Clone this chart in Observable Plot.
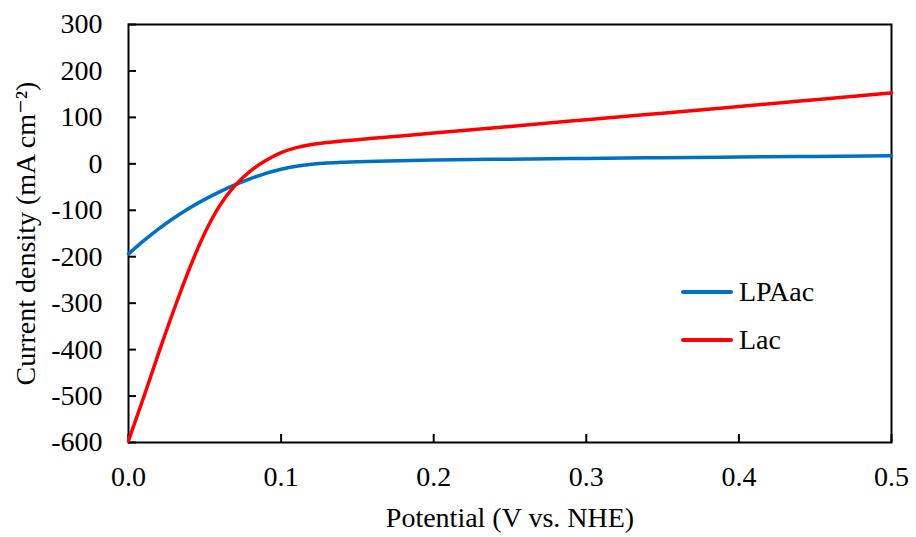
<!DOCTYPE html>
<html>
<head>
<meta charset="utf-8">
<script src="https://cdn.jsdelivr.net/npm/d3@7"></script>
<script src="https://cdn.jsdelivr.net/npm/@observablehq/plot@0.6"></script>
<style>
  html, body { margin: 0; padding: 0; background: #fff; }
  #wrap { position: relative; width: 916px; height: 537px; font-family: "Liberation Serif", "DejaVu Serif", serif; }
  #legend { position: absolute; left: 681px; top: 268px; font-size: 28px; color: #000; font-family: "Liberation Serif", "DejaVu Serif", serif; }
  .li { display: flex; align-items: center; height: 48px; }
  .sw { width: 52px; height: 4px; margin-right: 6px; border-radius: 2px; }
</style>
</head>
<body>
<div id="wrap"></div>
<script>
// Potential (V vs. NHE)
const lpaPotential = [0, 0.01, 0.02, 0.03, 0.04, 0.05, 0.06, 0.07, 0.08, 0.09, 0.10, 0.11, 0.12, 0.13, 0.14, 0.15, 0.17, 0.20, 0.25, 0.30, 0.35, 0.40, 0.45, 0.50];
// Current density (mA cm-2), LPAac
const lpaCurrent = [-194, -165.5, -139.5, -116, -95, -76.5, -60, -45, -32, -20.5, -11.5, -5, -1, 1.6, 3.3, 4.5, 6.3, 8.1, 10.1, 11.7, 13.2, 14.7, 16, 17.3];

const lacPotential = [0, 0.01, 0.02, 0.03, 0.04, 0.05, 0.06, 0.07, 0.08, 0.09, 0.10, 0.11, 0.12, 0.13, 0.14, 0.15, 0.16, 0.18, 0.20, 0.25, 0.30, 0.35, 0.40, 0.45, 0.50];
// Current density (mA cm-2), Lac
const lacCurrent = [-596, -502, -405, -312, -225, -149, -89, -46, -15, 7, 24, 35, 41.5, 45.7, 49, 52, 55, 60.6, 66.3, 80.6, 95, 109, 123.5, 138, 152.5];

const seriesNames = ["LPAac", "Lac"];
const seriesColors = ["#0070C0", "#FF0000"];
const xTicks = [0, 0.1, 0.2, 0.3, 0.4, 0.5];
const yTicks = [-600, -500, -400, -300, -200, -100, 0, 100, 200, 300];
const xTitle = "Potential (V vs. NHE)";
const yTitle = "Current density (mA cm\u207B\u00B2)";

const lpa = lpaPotential.map((x, i) => ({x, y: lpaCurrent[i]}));
const lac = lacPotential.map((x, i) => ({x, y: lacCurrent[i]}));

const serif = "'Liberation Serif', 'DejaVu Serif', serif";

const chart = Plot.plot({
  width: 916,
  height: 537,
  marginLeft: 128,
  marginRight: 25,
  marginTop: 24,
  marginBottom: 95,
  style: {fontFamily: serif, fontSize: "28px", color: "#000", background: "#fff"},
  x: {domain: [0, 0.5]},
  y: {domain: [-600, 300]},
  marks: [
    Plot.frame({stroke: "#000", strokeWidth: 2}),
    Plot.axisX({ticks: xTicks, tickFormat: d3.format(".1f"), tickSize: -8, tickPadding: 32, label: null, fontSize: 28, strokeWidth: 2}),
    Plot.axisY({ticks: yTicks, tickFormat: d => String(d), tickSize: -8, tickPadding: 34, label: null, fontSize: 28, strokeWidth: 2}),
    Plot.text([xTitle], {frameAnchor: "bottom", dy: 76, lineAnchor: "middle", fontSize: 28, fill: "#000"}),
    Plot.text([yTitle], {frameAnchor: "left", dx: -102, rotate: -90, lineAnchor: "middle", textAnchor: "middle", fontSize: 28, fill: "#000"}),
    Plot.line(lpa, {x: "x", y: "y", stroke: seriesColors[0], strokeWidth: 3.5, curve: "natural"}),
    Plot.line(lac, {x: "x", y: "y", stroke: seriesColors[1], strokeWidth: 3.5, curve: "natural"})
  ]
});

const wrap = document.getElementById("wrap");
wrap.appendChild(chart);
const legend = document.createElement("div");
legend.id = "legend";
seriesNames.forEach((name, i) => {
  const row = document.createElement("div");
  row.className = "li";
  const sw = document.createElement("div");
  sw.className = "sw";
  sw.style.background = seriesColors[i];
  const t = document.createElement("span");
  t.textContent = name;
  row.appendChild(sw);
  row.appendChild(t);
  legend.appendChild(row);
});
wrap.appendChild(legend);
</script>
</body>
</html>
